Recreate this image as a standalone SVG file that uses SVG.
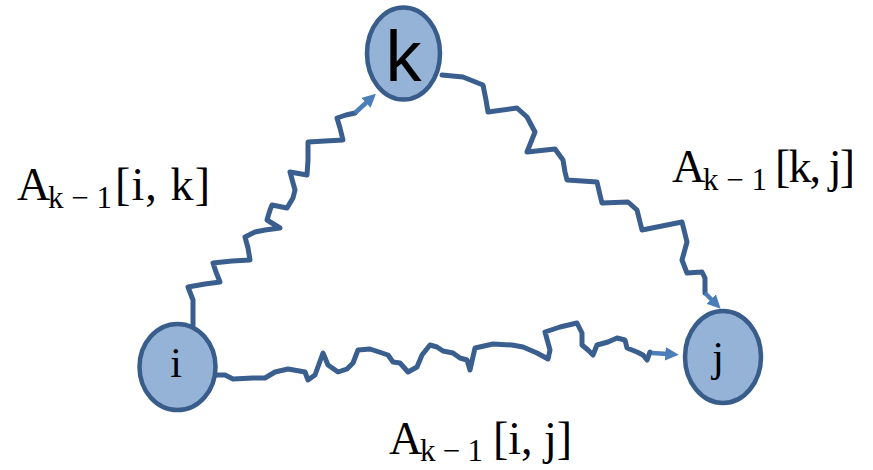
<svg xmlns="http://www.w3.org/2000/svg" width="873" height="470" viewBox="0 0 873 470">
<defs>
<style>
.node{fill:#95B3D7;stroke:#385D8A;stroke-width:4.5}
.wire{fill:none;stroke:#3A5F8F;stroke-width:5;stroke-linejoin:round;stroke-linecap:round}
.tip{fill:none;stroke:#4A7EBB;stroke-width:4.5;marker-end:url(#ah)}
.lbl{font-family:"Liberation Serif","Times New Roman",serif;fill:#000}
.main{font-size:46px}
.sub{font-size:31px}
</style>
<marker id="ah" viewBox="0 0 10 10" refX="2" refY="5" markerWidth="3" markerHeight="3" orient="auto" markerUnits="strokeWidth">
<path d="M0,0 L10,5 L0,10 z" fill="#4A7EBB"/>
</marker>
</defs>
<rect width="873" height="470" fill="#fff"/>
<g id="connectors">
<polyline class="wire" points="193,325 193,300 188,287 205,284 220,282 216,272 213,263 232,261 250,260 248,248 245,237 255,232 265,230 280,228 267,220 270,210 272,205 287,208 293,198 295,190 290,172 307,175 308,160 308,142 325,141 343,140 340,128 337,118 346,115 355,113"/>
<line class="tip" x1="355" y1="113" x2="368" y2="101"/>
<polyline class="wire" points="442,75 463,77 483,85 486,100 488,112 517,108 527,117 535,132 527,152 555,149 563,160 565,172 567,180 597,182 600,195 602,203 628,202 637,210 642,230 682,222 687,242 682,260 687,273 702,272 705,278 705,293"/>
<line class="tip" x1="705" y1="293" x2="713" y2="301"/>
<polyline class="wire" points="216,375 225,375 233,379 253,378 265,378 275,372 288,369 305,372 308,380 315,375 323,353 328,365 338,372 347,369 353,363 358,350 370,349 388,355 393,362 400,363 408,372 417,367 422,355 430,345 437,347 443,351 453,353 460,358 467,360 470,370 475,348 493,344 512,345 523,347 537,353 548,359 550,350 545,332 560,327 577,323 582,333 582,345 588,350 593,355 597,345 608,342 617,338 625,340 627,348 637,352 643,355 647,360 650,352"/>
<line class="tip" x1="652" y1="353" x2="668" y2="354"/>
</g>
<g id="node-k">
<ellipse class="node" cx="403.5" cy="53.5" rx="36.5" ry="46"/>
<text x="403.5" y="81" text-anchor="middle" font-family="Liberation Sans, Arial, sans-serif" font-size="72">k</text>
</g>
<g id="node-i">
<ellipse class="node" cx="177.5" cy="367" rx="38" ry="43"/>
<text x="176" y="377" text-anchor="middle" class="lbl" font-size="42">i</text>
</g>
<g id="node-j">
<ellipse class="node" cx="723" cy="357" rx="38" ry="46"/>
<text x="718" y="371" text-anchor="middle" class="lbl" font-size="42">j</text>
</g>
<g id="label-ik">
<text class="lbl main" x="17" y="200">A</text>
<text class="lbl sub" x="48" y="208" textLength="64" lengthAdjust="spacing">k − 1</text>
<text class="lbl main" x="115" y="200" textLength="95" lengthAdjust="spacing">[i, k]</text>
</g>
<g id="label-kj">
<text class="lbl main" x="672" y="182">A</text>
<text class="lbl sub" x="703" y="190" textLength="64" lengthAdjust="spacing">k − 1</text>
<text class="lbl main" x="775" y="182" textLength="80" lengthAdjust="spacing">[k, j]</text>
</g>
<g id="label-ij">
<text class="lbl main" x="389" y="454">A</text>
<text class="lbl sub" x="420" y="461" textLength="63" lengthAdjust="spacing">k − 1</text>
<text class="lbl main" x="493" y="454" textLength="79" lengthAdjust="spacing">[i, j]</text>
</g>
</svg>
